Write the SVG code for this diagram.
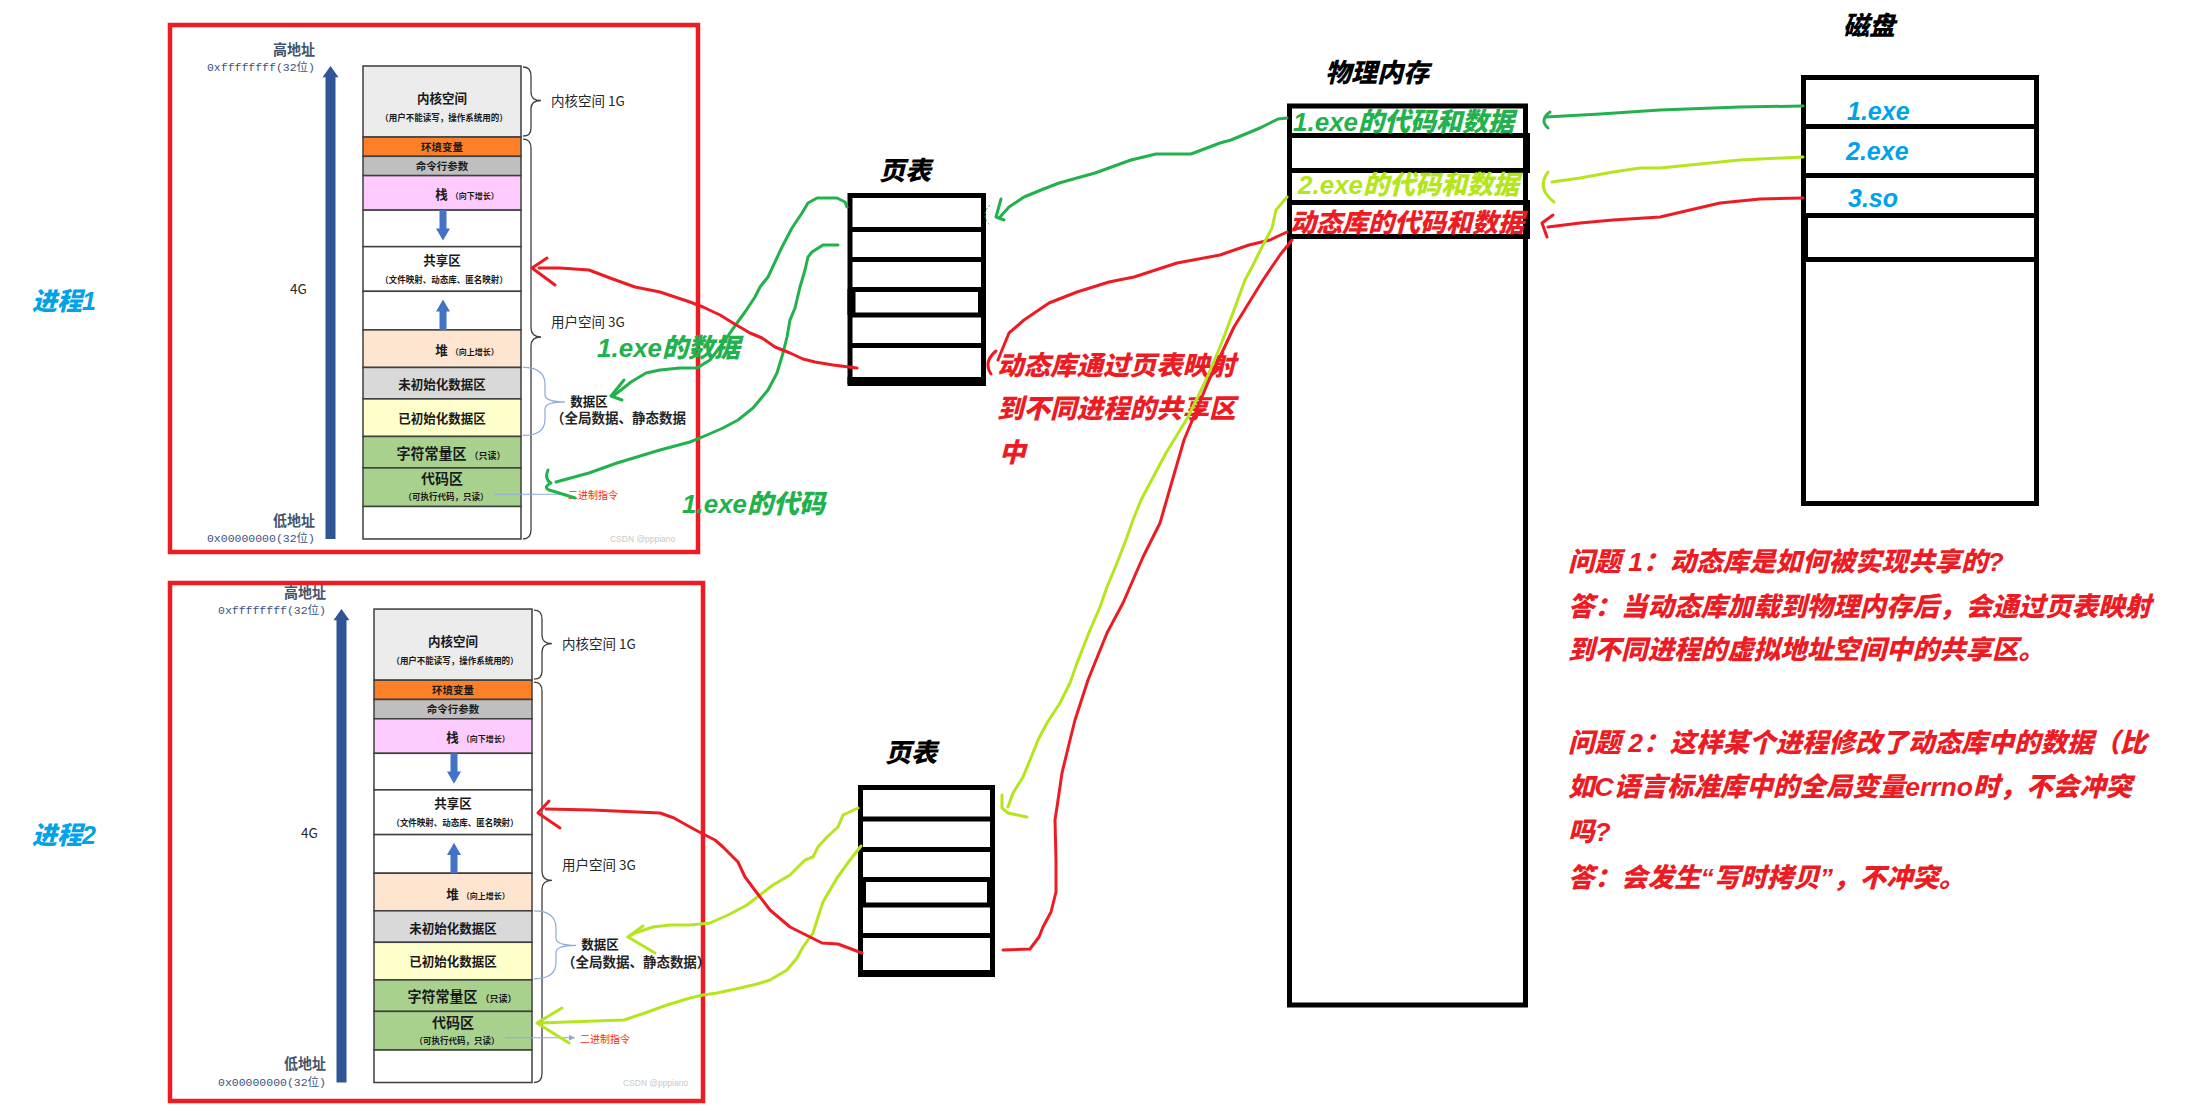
<svg xmlns="http://www.w3.org/2000/svg" width="2191" height="1115" viewBox="0 0 2191 1115">
<style>
.frame{fill:none;stroke:#ed1c24;stroke-width:4.5}
.cell{stroke:#3f3f3f;stroke-width:1.5}
.mt{font-family:"Noto Sans CJK SC",sans-serif;font-weight:700;fill:#1a1a1a;text-anchor:middle}
.hi{font-family:"Noto Sans CJK SC",sans-serif;font-weight:700;font-size:14px;fill:#44546a;text-anchor:middle}
.ad{font-family:"Liberation Mono","Noto Sans CJK SC",monospace;font-size:11.5px;fill:#3a5283;text-anchor:end}
.lbl{font-family:"Noto Sans CJK SC",sans-serif;font-size:13.5px;fill:#262626}
.brace{fill:none;stroke:#404040;stroke-width:1.3}
.dbrace{fill:none;stroke:#8eaadb;stroke-width:1.2}
.arw{fill:#2f5597}
.sarw{fill:#4472c4}
.wm{font-family:"Liberation Sans",sans-serif;font-size:8.5px;fill:#c8c8c8}
.bin{font-family:"Noto Sans CJK SC",sans-serif;font-size:10px;fill:#ff1a1a}
.box{fill:#fff;stroke:#000;stroke-width:5}
.sep{stroke:#000;stroke-width:5;fill:none}
.ann{font-family:"Liberation Sans","Noto Sans CJK SC",sans-serif;font-weight:900;font-style:italic}
.title{font-size:26px;fill:#000}
.hand{fill:none;stroke-width:3;stroke-linecap:round;stroke-linejoin:round}
.g{stroke:#22b14c}.l{stroke:#b5e61d}.r{stroke:#ed1c24}
.qa{font-size:26.5px;fill:#ed1c24}
</style>
<defs>
<marker id="ba" markerWidth="8" markerHeight="8" refX="6" refY="3" orient="auto" markerUnits="userSpaceOnUse"><path d="M0,0L6,3L0,6Z" fill="#8eaadb"/></marker>
</defs>
<rect width="2191" height="1115" fill="#fff"/>

<!-- Process 1 -->
<g id="process1">
<text class="ann" x="32" y="310" font-size="25" fill="#00a2e8">进程1</text>
<rect class="frame" x="170" y="25" width="528" height="527"/>
<g id="layout1" transform="matrix(1,0,0,1.015,0,-1)">
<text class="hi" x="294" y="55">高地址</text>
<text class="ad" x="315" y="71">0xffffffff(32位)</text>
<path class="arw" d="M325.5,532V77H322.5L330.5,66L338.5,77H335.5V532Z"/>
<text class="lbl" x="290" y="291" font-size="14">4G</text>
<text class="hi" x="294" y="519">低地址</text>
<text class="ad" x="315" y="535">0x00000000(32位)</text>
<g class="cell">
<rect x="363" y="66" width="158" height="70" fill="#ececec"/>
<rect x="363" y="136" width="158" height="19" fill="#fd7f27"/>
<rect x="363" y="155" width="158" height="19" fill="#bfbfbf"/>
<rect x="363" y="174" width="158" height="34" fill="#fecbfe"/>
<rect x="363" y="208" width="158" height="36" fill="#fff"/>
<rect x="363" y="244" width="158" height="44" fill="#fff"/>
<rect x="363" y="288" width="158" height="38" fill="#fff"/>
<rect x="363" y="326" width="158" height="37" fill="#fde5cf"/>
<rect x="363" y="363" width="158" height="31" fill="#d9d9d9"/>
<rect x="363" y="394" width="158" height="37" fill="#ffffcc"/>
<rect x="363" y="431" width="158" height="31" fill="#a9d18e"/>
<rect x="363" y="462" width="158" height="38" fill="#a9d18e"/>
<rect x="363" y="500" width="158" height="32" fill="#fff"/>
</g>
<text class="mt" x="442" y="102" font-size="12.5">内核空间</text>
<text class="mt" x="444" y="120" font-size="8.5">（用户不能读写，操作系统用的）</text>
<text class="mt" x="442" y="149.5" font-size="10.5">环境变量</text>
<text class="mt" x="442" y="168.5" font-size="10.5">命令行参数</text>
<text class="mt" x="467" y="197" font-size="12.5">栈<tspan font-size="8" dx="3">（向下增长）</tspan></text>
<path class="sarw" d="M439.5,208V226H436L443,238L450,226H446.5V208Z"/>
<text class="mt" x="442" y="262" font-size="12.5">共享区</text>
<text class="mt" x="444" y="280" font-size="8.5">（文件映射、动态库、匿名映射）</text>
<path class="sarw" d="M439.5,326V308H436L443,296L450,308H446.5V326Z"/>
<text class="mt" x="467" y="351" font-size="12.5">堆<tspan font-size="8" dx="3">（向上增长）</tspan></text>
<text class="mt" x="442" y="384.5" font-size="12.5">未初始化数据区</text>
<text class="mt" x="442" y="417.5" font-size="12.5">已初始化数据区</text>
<text class="mt" x="451" y="453" font-size="14">字符常量区<tspan font-size="9" dx="3">（只读）</tspan></text>
<text class="mt" x="442" y="478" font-size="14">代码区</text>
<text class="mt" x="446" y="494" font-size="8.5">（可执行代码，只读）</text>
<path class="brace" d="M523,67Q531,67 531,76V92Q531,100 541,100Q531,100 531,108V127Q531,135 523,135"/>
<path class="brace" d="M523,138Q531,138 531,147V324Q531,333 541,333Q531,333 531,342V523Q531,532 523,532"/>
<text class="lbl" x="551" y="105">内核空间 1G</text>
<text class="lbl" x="551" y="323">用户空间 3G</text>
<path class="dbrace" d="M523,363Q545,363 545,380V390Q545,397 565,397Q545,397 545,404V414Q545,430 523,430"/>
<text class="mt" x="589" y="401" font-size="12.5" font-weight="400">数据区</text>
<text class="lbl" x="551" y="418" font-size="12" font-weight="700">（全局数据、静态数据</text>
<path d="M494,488H566" stroke="#8eaadb" stroke-width="1" fill="none"/>
<text class="bin" x="568" y="493">二进制指令</text>
<text class="wm" x="610" y="535">CSDN @pppiano</text>
</g>
</g>

<!-- Process 2 -->
<g id="process2">
<text class="ann" x="32" y="844" font-size="25" fill="#00a2e8">进程2</text>
<rect class="frame" x="170" y="583" width="533" height="518"/>
<g id="layout2" transform="translate(11,543) matrix(1,0,0,1.016,0,-1)">
<text class="hi" x="294" y="55">高地址</text>
<text class="ad" x="315" y="71">0xffffffff(32位)</text>
<path class="arw" d="M325.5,532V77H322.5L330.5,66L338.5,77H335.5V532Z"/>
<text class="lbl" x="290" y="291" font-size="14">4G</text>
<text class="hi" x="294" y="519">低地址</text>
<text class="ad" x="315" y="535">0x00000000(32位)</text>
<g class="cell">
<rect x="363" y="66" width="158" height="70" fill="#ececec"/>
<rect x="363" y="136" width="158" height="19" fill="#fd7f27"/>
<rect x="363" y="155" width="158" height="19" fill="#bfbfbf"/>
<rect x="363" y="174" width="158" height="34" fill="#fecbfe"/>
<rect x="363" y="208" width="158" height="36" fill="#fff"/>
<rect x="363" y="244" width="158" height="44" fill="#fff"/>
<rect x="363" y="288" width="158" height="38" fill="#fff"/>
<rect x="363" y="326" width="158" height="37" fill="#fde5cf"/>
<rect x="363" y="363" width="158" height="31" fill="#d9d9d9"/>
<rect x="363" y="394" width="158" height="37" fill="#ffffcc"/>
<rect x="363" y="431" width="158" height="31" fill="#a9d18e"/>
<rect x="363" y="462" width="158" height="38" fill="#a9d18e"/>
<rect x="363" y="500" width="158" height="32" fill="#fff"/>
</g>
<text class="mt" x="442" y="102" font-size="12.5">内核空间</text>
<text class="mt" x="444" y="120" font-size="8.5">（用户不能读写，操作系统用的）</text>
<text class="mt" x="442" y="149.5" font-size="10.5">环境变量</text>
<text class="mt" x="442" y="168.5" font-size="10.5">命令行参数</text>
<text class="mt" x="467" y="197" font-size="12.5">栈<tspan font-size="8" dx="3">（向下增长）</tspan></text>
<path class="sarw" d="M439.5,208V226H436L443,238L450,226H446.5V208Z"/>
<text class="mt" x="442" y="262" font-size="12.5">共享区</text>
<text class="mt" x="444" y="280" font-size="8.5">（文件映射、动态库、匿名映射）</text>
<path class="sarw" d="M439.5,326V308H436L443,296L450,308H446.5V326Z"/>
<text class="mt" x="467" y="351" font-size="12.5">堆<tspan font-size="8" dx="3">（向上增长）</tspan></text>
<text class="mt" x="442" y="384.5" font-size="12.5">未初始化数据区</text>
<text class="mt" x="442" y="417.5" font-size="12.5">已初始化数据区</text>
<text class="mt" x="451" y="453" font-size="14">字符常量区<tspan font-size="9" dx="3">（只读）</tspan></text>
<text class="mt" x="442" y="478" font-size="14">代码区</text>
<text class="mt" x="446" y="494" font-size="8.5">（可执行代码，只读）</text>
<path class="brace" d="M523,67Q531,67 531,76V92Q531,100 541,100Q531,100 531,108V127Q531,135 523,135"/>
<path class="brace" d="M523,138Q531,138 531,147V324Q531,333 541,333Q531,333 531,342V523Q531,532 523,532"/>
<text class="lbl" x="551" y="105">内核空间 1G</text>
<text class="lbl" x="551" y="323">用户空间 3G</text>
<path class="dbrace" d="M523,363Q545,363 545,380V390Q545,397 565,397Q545,397 545,404V414Q545,430 523,430"/>
<text class="mt" x="589" y="401" font-size="12.5" font-weight="400">数据区</text>
<text class="lbl" x="551" y="418" font-size="12" font-weight="700">（全局数据、静态数据）</text>
<path d="M494,488H564" stroke="#8eaadb" stroke-width="1" fill="none" marker-end="url(#ba)"/>
<text class="bin" x="569" y="493">二进制指令</text>
<text class="wm" x="612" y="535">CSDN @pppiano</text>
</g>
</g>

<!-- Page table 1 -->
<g id="pagetable1">
<text class="ann title" x="879" y="180">页表</text>
<rect class="box" x="850" y="195.5" width="133.5" height="186"/>
<path class="sep" d="M850,229.5H983.5M850,259.5H983.5M850,289.5H983.5M850,315H983.5M850,345.5H983.5"/>
<rect x="847.5" y="377" width="138.5" height="9" fill="#000"/>
<rect x="847.5" y="289" width="8" height="26" fill="#000"/>
<rect x="978" y="289" width="8" height="26" fill="#000"/>
</g>

<!-- Page table 2 -->
<g id="pagetable2">
<text class="ann title" x="885" y="762">页表</text>
<rect class="box" x="860.5" y="787.5" width="132" height="185"/>
<path class="sep" d="M860.5,819H992.5M860.5,849.5H992.5M860.5,879.5H992.5M860.5,905H992.5M860.5,935.5H992.5"/>
<rect x="858" y="970" width="137" height="7" fill="#000"/>
<rect x="858" y="879" width="8" height="26" fill="#000"/>
<rect x="987" y="879" width="8" height="26" fill="#000"/>
</g>

<!-- Physical memory -->
<g id="physmem">
<text class="ann title" x="1325" y="82">物理内存</text>
<rect class="box" x="1289.5" y="106" width="236" height="899"/>
<path class="sep" d="M1287,135.5H1530M1287,170.5H1530M1292,202.5H1530M1292,236.5H1530"/>
<rect x="1523" y="133" width="7" height="40" fill="#000"/>
<rect x="1523" y="200" width="7" height="39" fill="#000"/>
<text class="ann" x="1293" y="131" font-size="26" fill="#22b14c">1.exe的代码和数据</text>
<text class="ann" x="1298" y="194" font-size="26" fill="#b5e61d">2.exe的代码和数据</text>
<text class="ann" x="1290" y="232" font-size="26" fill="#ed1c24">动态库的代码和数据</text>
</g>

<!-- Disk -->
<g id="disk">
<text class="ann title" x="1843" y="35">磁盘</text>
<rect class="box" x="1803.5" y="77.5" width="233" height="426"/>
<path class="sep" d="M1803.5,126.5H2036.5M1803.5,175.5H2036.5M1803.5,215.5H2036.5M1803.5,259.5H2036.5"/>
<rect x="1803" y="215" width="5" height="44" fill="#000"/>
<text class="ann" x="1847" y="120" font-size="25" fill="#00a2e8">1.exe</text>
<text class="ann" x="1846" y="160" font-size="25" fill="#00a2e8">2.exe</text>
<text class="ann" x="1848" y="207" font-size="25" fill="#00a2e8">3.so</text>
</g>

<!-- Annotations -->
<g id="annotations">
<text class="ann" x="597" y="357" font-size="26" fill="#22b14c">1.exe的数据</text>
<text class="ann" x="682" y="513" font-size="26" fill="#22b14c">1.exe的代码</text>
<text class="ann" x="997" y="375" font-size="26.5" fill="#ed1c24">动态库通过页表映射</text>
<text class="ann" x="997" y="418" font-size="26.5" fill="#ed1c24">到不同进程的共享区</text>
<text class="ann" x="999" y="462" font-size="26.5" fill="#ed1c24">中</text>
</g>

<g id="questions">
<text class="ann qa" x="1568" y="571">问题 1：动态库是如何被实现共享的?</text>
<text class="ann qa" x="1568" y="616">答：当动态库加载到物理内存后，会通过页表映射</text>
<text class="ann qa" x="1568" y="659">到不同进程的虚拟地址空间中的共享区。</text>
<text class="ann qa" x="1568" y="752">问题 2：这样某个进程修改了动态库中的数据（比</text>
<text class="ann qa" x="1568" y="796">如C语言标准库中的全局变量errno时，不会冲突</text>
<text class="ann qa" x="1568" y="841">吗?</text>
<text class="ann qa" x="1568" y="887">答：会发生“写时拷贝”，不冲突。</text>
</g>

<!-- Connectors -->
<g id="connectors">
<polyline class="hand g" points="1803,106 1740,107 1660,110 1600,114 1546,117"/>
<path class="hand g" d="M1550,112Q1539,120 1548,128"/>
<polyline class="hand l" points="1803,157 1740,160 1700,164 1660,168 1640,168 1613,172 1580,178 1552,182"/>
<path class="hand l" d="M1548,172Q1536,188 1554,202"/>
<polyline class="hand r" points="1803,198 1760,199 1720,203 1690,210 1660,217 1613,220 1580,223 1548,227"/>
<path class="hand r" d="M1553,215L1542,223L1547,237"/>

<polyline class="hand g" points="1287,118 1278,119 1270,123 1260,128 1231,140 1220,143 1191,154 1156,154 1131,160 1095,173 1059,183 1041,190 1024,197 1009,207 1000,217"/>
<path class="hand g" d="M1001,199L996,217L1004,220"/>
<path d="M990,205Q980,215 990,225" fill="none" stroke="#22b14c" stroke-width="1" stroke-dasharray="2,2"/>

<polyline class="hand g" points="847,207 845,202 837,198 817,198 808,203 802,213 792,228 782,247 768,277 760,287 755,297 745,312 737,323 723,343 710,360 697,368 680,368 660,370 646,373 631,382 621,390 613,396"/>
<path class="hand g" d="M624,380L611,396L622,400"/>
<polyline class="hand g" points="838,245 823,245 812,252 808,257 805,270 800,287 795,308 790,320 787,337 783,353 777,373 768,390 753,408 738,420 723,428 707,435 690,442 660,450 617,463 589,473 556,482"/>
<path class="hand g" d="M548,470Q544,479 551,483Q543,487 549,490Q556,492 575,498"/>

<polyline class="hand r" points="857,368 833,365 815,362 803,359 790,353 775,347 762,338 750,333 733,323 720,315 703,307 690,302 660,292 635,287 610,278 589,270 560,268 539,268"/>
<path class="hand r" d="M547,258L532,268L555,285"/>

<polyline class="hand r" points="1287,232 1270,240 1249,245 1220,255 1177,263 1134,277 1109,282 1077,292 1049,303 1024,320 1009,333 1002,350 998,360"/>
<path class="hand r" d="M996,351Q983,362 991,374"/>

<polyline class="hand l" points="1287,197 1276,210 1272,228 1263,245 1252,267 1245,280 1234,310 1220,347 1206,380 1188,417 1166,453 1141,500 1133,520 1127,537 1117,563 1107,587 1100,607 1090,630 1077,663 1070,683 1060,703 1047,723 1038,740 1030,760 1023,777 1013,793 1008,807"/>
<path class="hand l" d="M1002,795L1002,808L1008,813L1027,817"/>

<polyline class="hand r" points="1292,240 1280,255 1263,280 1234,327 1209,380 1184,440 1160,523 1143,557 1123,603 1107,633 1088,680 1075,720 1070,740 1062,773 1057,807 1055,820 1056,860 1056,892 1051,912 1043,927 1039,937 1030,949 1003,950"/>

<polyline class="hand l" points="858,808 843,815 838,827 827,837 818,847 813,857 805,860 790,875 773,885 760,895 747,905 728,915 710,923 690,925 670,925 653,927 635,933 628,937"/>
<path class="hand l" d="M643,926L628,937L655,953"/>
<polyline class="hand l" points="861,846 850,860 837,878 823,902 818,917 813,933 803,947 797,958 787,970 770,980 757,984 740,988 717,993 703,995 690,998 667,1005 645,1013 624,1020 567,1022 541,1023"/>
<path class="hand l" d="M562,1008L537,1023L569,1043"/>
<polyline class="hand r" points="862,953 838,944 822,943 812,938 790,927 770,910 757,893 745,877 738,862 723,847 715,840 703,834 690,827 674,818 660,813 592,810 546,809"/>
<path class="hand r" d="M549,801L538,813L560,828"/>
</g>
</svg>
